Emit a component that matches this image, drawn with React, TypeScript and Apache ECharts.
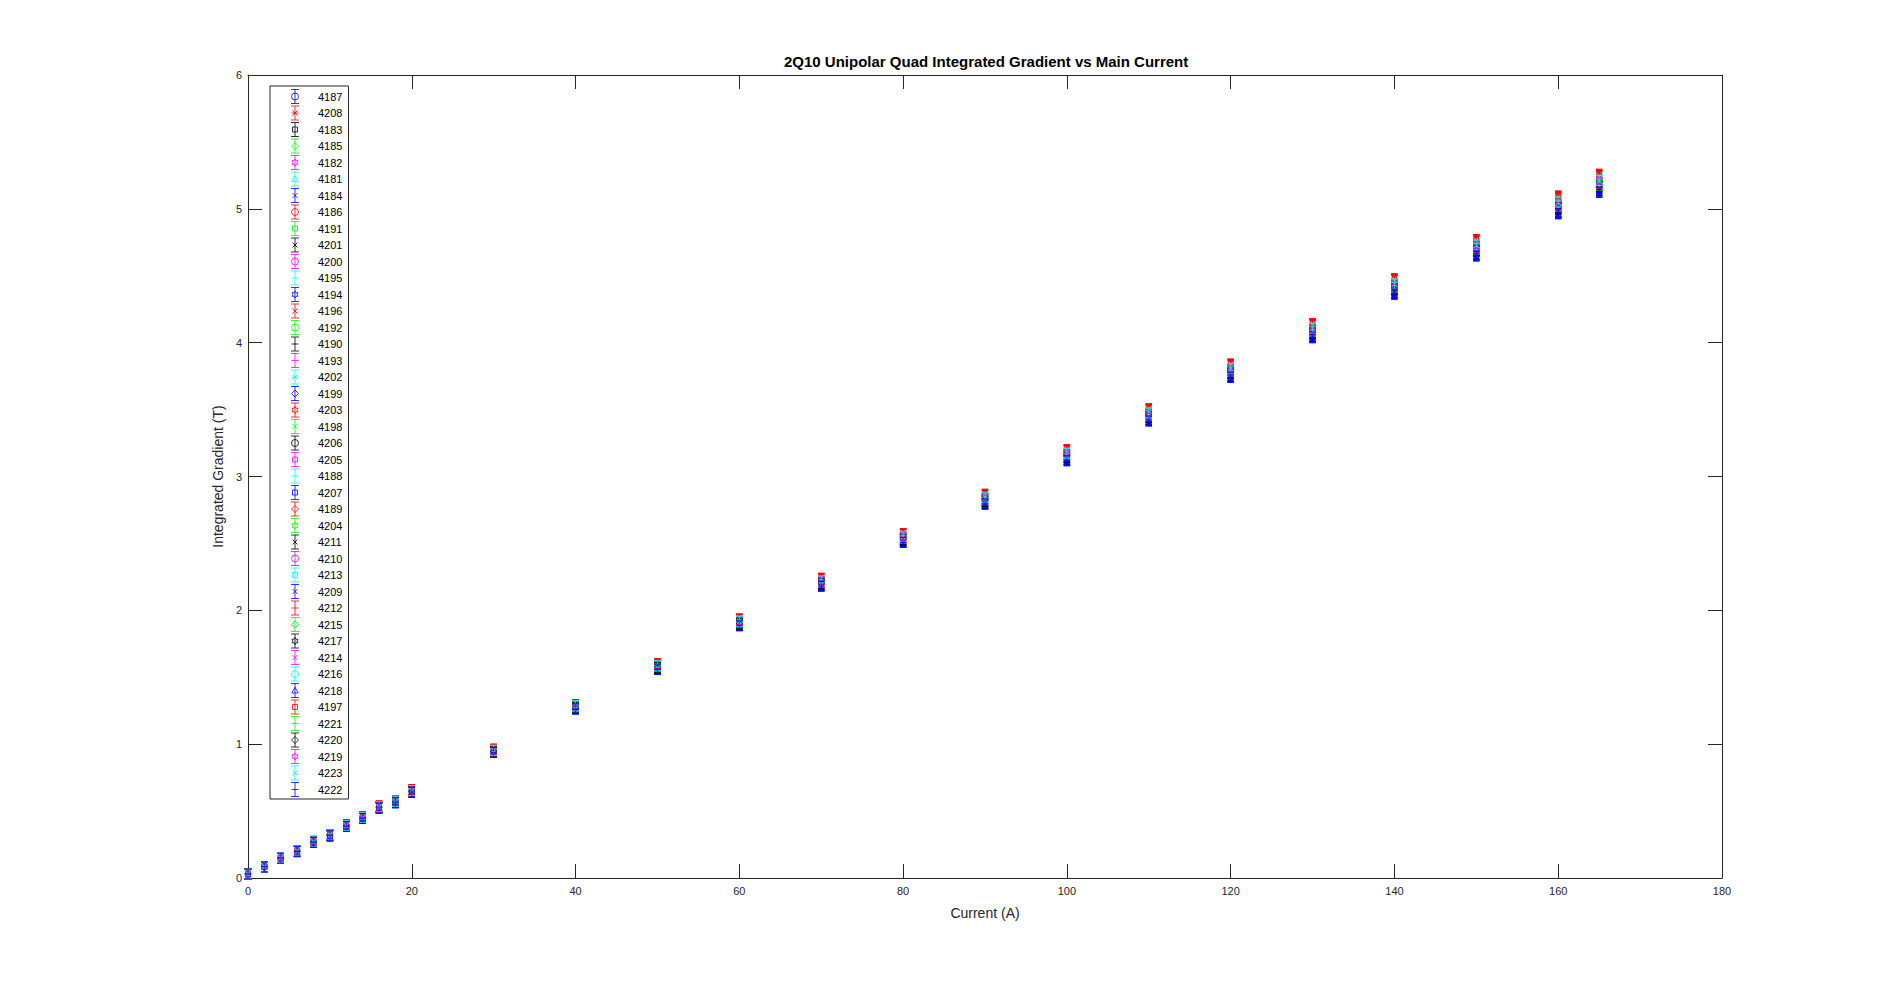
import React, { useEffect, useRef } from "react";
import * as echarts from "echarts";

// Magnet serial numbers (legend order)
const magnetNames: string[] = [
  "4187", "4208", "4183", "4185", "4182", "4181", "4184", "4186", "4191", "4201",
  "4200", "4195", "4194", "4196", "4192", "4190", "4193", "4202", "4199", "4203",
  "4198", "4206", "4205", "4188", "4207", "4189", "4204", "4211", "4210", "4213",
  "4209", "4212", "4215", "4217", "4214", "4216", "4218", "4197", "4221", "4220",
  "4219", "4223", "4222",
];

// MATLAB colour letter for each magnet
const magnetColors: string[] = [
  "b", "r", "k", "g", "m", "c", "b", "r", "g", "k",
  "m", "c", "b", "r", "g", "k", "m", "c", "b", "r",
  "g", "k", "m", "c", "b", "r", "g", "k", "m", "c",
  "b", "r", "g", "k", "m", "c", "b", "r", "g", "k",
  "m", "c", "b",
];

// Marker for each magnet
const magnetMarkers: string[] = [
  "o", "*", "s", "d", "h", "^", "x", "o", "s", "x",
  "o", "+", "h", "x", "o", "+", "+", "*", "d", "h",
  "x", "o", "s", "+", "s", "d", "h", "x", "o", "s",
  "x", "+", "d", "h", "x", "o", "^", "s", "+", "d",
  "h", "x", "+",
];

// Main current set points (A)
const currents: number[] = [0, 2, 4, 6, 8, 10, 12, 14, 16, 18, 20, 30, 40, 50, 60, 70, 80, 90, 100, 110, 120, 130, 140, 150, 160, 165];

// Cluster-centre integrated gradient (T) read at each current
const meanGradient: number[] = [0.03, 0.085, 0.15, 0.2, 0.27, 0.32, 0.39, 0.45, 0.53, 0.57, 0.65, 0.95, 1.28, 1.58, 1.91, 2.21, 2.54, 2.83, 3.16, 3.46, 3.79, 4.09, 4.42, 4.71, 5.03, 5.19];

// Relative strength of each magnet vs. the cluster centre (read from cluster ordering)
const relativeStrength: number[] = [
  0.990, 1.012, 0.996, 0.998, 1.000, 1.004, 0.988, 1.013, 0.997, 0.995,
  1.001, 1.005, 0.989, 1.010, 0.999, 0.994, 1.002, 1.006, 0.991, 1.011,
  0.997, 0.996, 1.000, 1.004, 0.987, 1.012, 0.998, 0.995, 1.002, 1.005,
  0.989, 1.010, 0.999, 0.994, 1.001, 1.006, 0.990, 1.013, 0.997, 0.996,
  1.000, 1.004, 0.987,
];

const xTicks = { min: 0, max: 180, interval: 20 };
const yTicks = { min: 0, max: 6, interval: 1 };

const COLOR_MAP: Record<string, string> = {
  b: "#0000ff", r: "#ff0000", k: "#000000", g: "#00ff00", m: "#ff00ff", c: "#00ffff",
};

// Legend icon: error bar (vertical with caps) + marker, in an 8 x 14 box
const LEGEND_BAR = "M0 0 L8 0 M0 14 L8 14 M4 0 L4 14 ";
const LEGEND_MARKER: Record<string, string> = {
  o: "M7.5 7 A3.5 3.5 0 1 1 0.5 7 A3.5 3.5 0 1 1 7.5 7 Z",
  s: "M1.5 4.5 L6.5 4.5 L6.5 9.5 L1.5 9.5 Z",
  d: "M4 3.5 L7.5 7 L4 10.5 L0.5 7 Z",
  "^": "M4 3.8 L7.2 9.5 L0.8 9.5 Z",
  x: "M1.5 4.5 L6.5 9.5 M6.5 4.5 L1.5 9.5",
  "+": "M0.5 7 L7.5 7",
  "*": "M0.5 7 L7.5 7 M1.5 4.5 L6.5 9.5 M6.5 4.5 L1.5 9.5",
  h: "M4 3.5 L5.01 5.25 L7.03 5.25 L6.02 7 L7.03 8.75 L5.01 8.75 L4 10.5 L2.99 8.75 L0.97 8.75 L1.98 7 L0.97 5.25 L2.99 5.25 Z",
};

// Plot symbol: shorter error bar + marker, in an 8 x 10 box
const PLOT_BAR = "M0 0 L8 0 M0 10 L8 10 M4 0 L4 10 ";
const PLOT_MARKER: Record<string, string> = {
  o: "M7.3 5 A3.3 3.3 0 1 1 0.7 5 A3.3 3.3 0 1 1 7.3 5 Z",
  s: "M1.3 2.3 L6.7 2.3 L6.7 7.7 L1.3 7.7 Z",
  d: "M4 1.5 L7.5 5 L4 8.5 L0.5 5 Z",
  "^": "M4 1.8 L7.2 7.5 L0.8 7.5 Z",
  x: "M1.5 2.5 L6.5 7.5 M6.5 2.5 L1.5 7.5",
  "+": "M0.5 5 L7.5 5",
  "*": "M0.5 5 L7.5 5 M1.5 2.5 L6.5 7.5 M6.5 2.5 L1.5 7.5",
  h: "M4 1.5 L5.01 3.25 L7.03 3.25 L6.02 5 L7.03 6.75 L5.01 6.75 L4 8.5 L2.99 6.75 L0.97 6.75 L1.98 5 L0.97 3.25 L2.99 3.25 Z",
};

const FONT = "'Liberation Sans', Arial, Helvetica, sans-serif";
const AXIS_COLOR = "#262626";

export default function App() {
  const ref = useRef<HTMLDivElement>(null);

  useEffect(() => {
    if (!ref.current) return;
    const chart = echarts.init(ref.current, undefined, { renderer: "svg" });

    const series = magnetNames.map((name, si) => ({
      type: "scatter",
      name,
      symbol: "path://" + PLOT_BAR + PLOT_MARKER[magnetMarkers[si]],
      symbolSize: [8, 10],
      symbolKeepAspect: true,
      itemStyle: {
        color: "rgba(0,0,0,0)",
        borderColor: COLOR_MAP[magnetColors[si]],
        borderWidth: 1,
      },
      emphasis: { disabled: true },
      silent: true,
      xAxisIndex: 0,
      yAxisIndex: 0,
      data: currents.map((c, i) => [c, +(meanGradient[i] * relativeStrength[si]).toFixed(4)]),
    }));

    const axisCommon = {
      axisLine: { show: true, onZero: false, lineStyle: { color: AXIS_COLOR, width: 1 } },
      axisTick: { show: true, inside: true, length: 14, lineStyle: { color: AXIS_COLOR, width: 1 } },
      splitLine: { show: false },
    };

    chart.setOption({
      animation: false,
      backgroundColor: "#ffffff",
      textStyle: { fontFamily: FONT },
      title: {
        text: "2Q10 Unipolar Quad Integrated Gradient vs Main Current",
        left: 784,
        top: 54,
        padding: 0,
        textStyle: { fontFamily: FONT, fontSize: 15, fontWeight: "bold", color: "#000000" },
      },
      grid: { left: 248, right: 182, top: 75, bottom: 109, containLabel: false },
      legend: {
        orient: "vertical",
        left: 270,
        top: 86,
        padding: [3, 6, 2, 20.5],
        itemWidth: 36,
        itemHeight: 14,
        itemGap: 1.5,
        symbolKeepAspect: true,
        selectedMode: false,
        borderColor: AXIS_COLOR,
        borderWidth: 1,
        backgroundColor: "#ffffff",
        itemStyle: { borderWidth: 1 },
        textStyle: { fontFamily: FONT, fontSize: 11, lineHeight: 14, color: "#000000" },
        data: magnetNames.map((n, si) => ({
          name: n,
          icon: "path://" + LEGEND_BAR + LEGEND_MARKER[magnetMarkers[si]],
        })),
      },
      xAxis: [
        {
          type: "value",
          position: "bottom",
          ...xTicks,
          ...axisCommon,
          name: "Current (A)",
          nameLocation: "middle",
          nameGap: 28,
          nameTextStyle: { fontFamily: FONT, fontSize: 14, color: AXIS_COLOR },
          axisLabel: { fontFamily: FONT, fontSize: 11, color: AXIS_COLOR, margin: 7 },
        },
        {
          type: "value",
          position: "top",
          ...xTicks,
          ...axisCommon,
          axisLabel: { show: false },
        },
      ],
      yAxis: [
        {
          type: "value",
          position: "left",
          ...yTicks,
          ...axisCommon,
          name: "Integrated Gradient (T)",
          nameLocation: "middle",
          nameGap: 13,
          nameTextStyle: { fontFamily: FONT, fontSize: 14, color: AXIS_COLOR },
          axisLabel: { fontFamily: FONT, fontSize: 11, color: AXIS_COLOR, margin: 6 },
        },
        {
          type: "value",
          position: "right",
          ...yTicks,
          ...axisCommon,
          axisLabel: { show: false },
        },
      ],
      series,
    });

    return () => chart.dispose();
  }, []);

  return (
    <div
      ref={ref}
      style={{ position: "fixed", left: 0, top: 0, width: 1904, height: 987, background: "#fff" }}
    />
  );
}
